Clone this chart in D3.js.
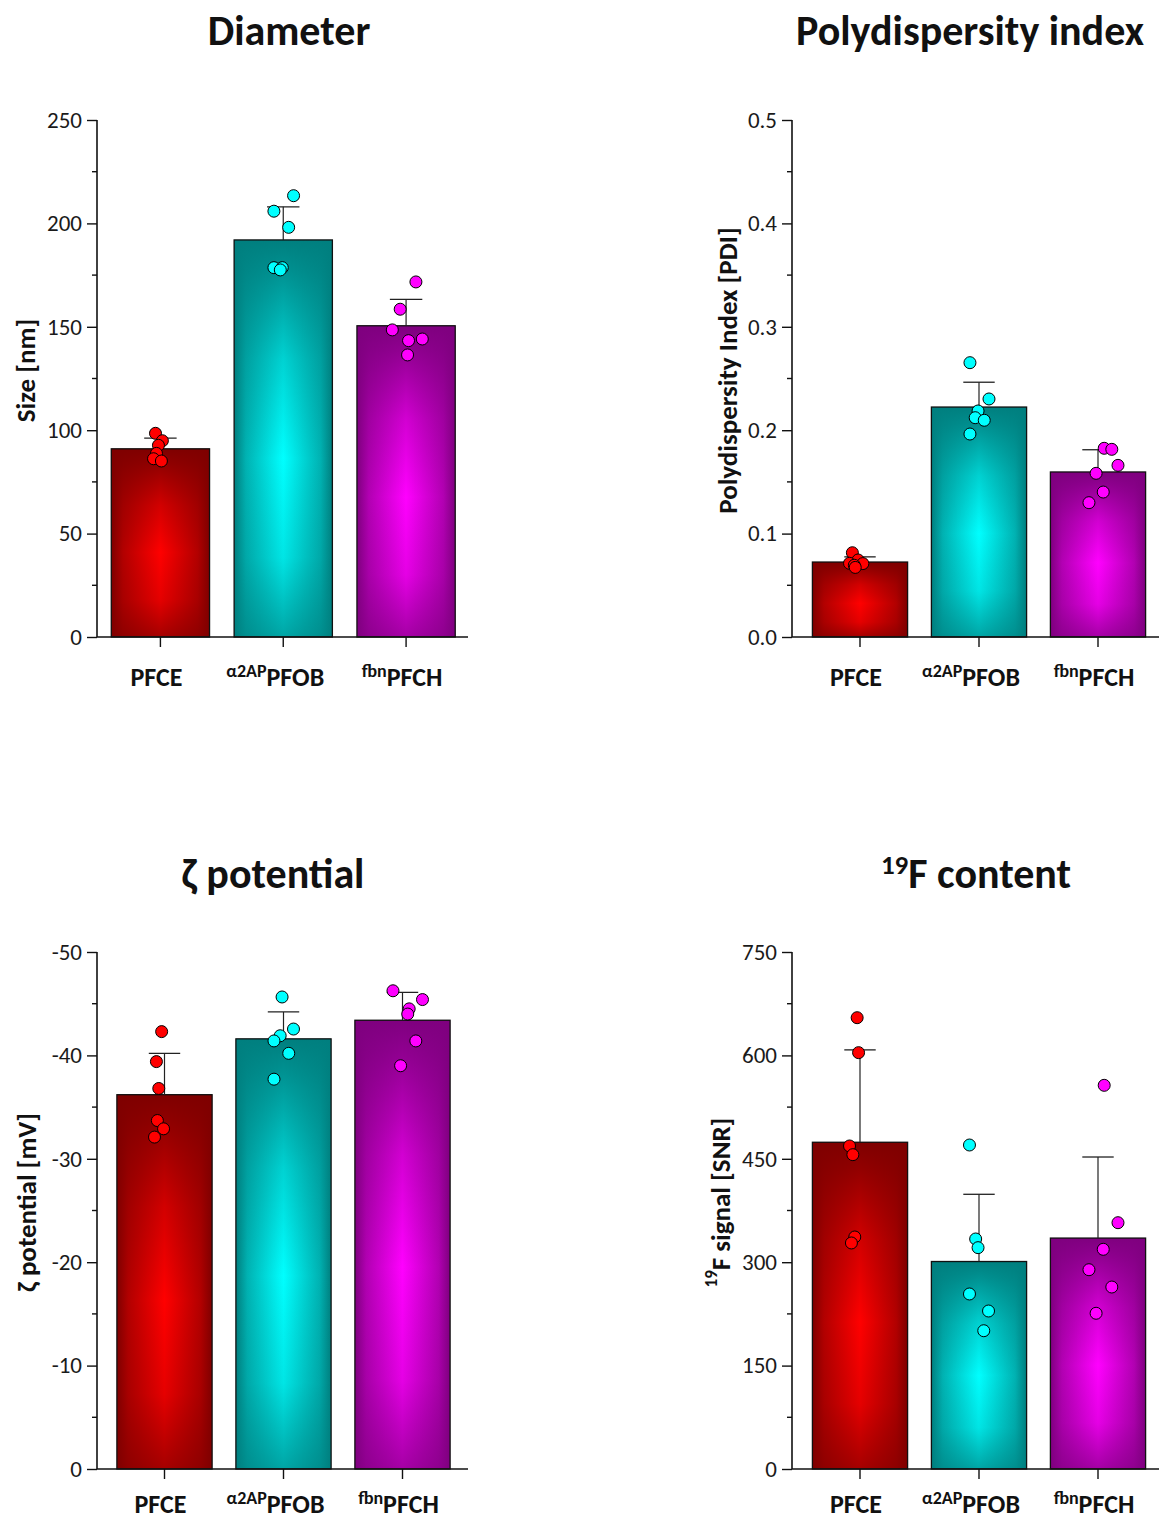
<!DOCTYPE html>
<html>
<head>
<meta charset="utf-8">
<script src="https://cdn.jsdelivr.net/npm/d3@7"></script>
<style>
  html, body { margin: 0; padding: 0; background: #fff; }
  svg { display: block; }
  text { font-family: Carlito, Calibri, "Open Sans", sans-serif; }
</style>
</head>
<body>
<svg id="chart" width="1159" height="1520"></svg>
<script>
// ---------------- DATA ----------------
const catMain = ["PFCE", "PFOB", "PFCH"];
const catSup  = ["", "\u03b12AP", "fbn"];

const diameterMean = [91.0, 192.0, 150.5];
const diameterSD   = [5.2, 16.0, 12.8];
const diameterPoints = [
  [98.5, 94.9, 92.7, 88.8, 86.2, 85.1],
  [213.4, 205.9, 198.1, 178.6, 178.6, 177.5],
  [171.7, 158.5, 148.5, 144.1, 143.3, 136.4]
];
const diameterJitter = [
  [-0.05, 0.02, -0.02, -0.04, -0.07, 0.01],
  [0.105, -0.095, 0.055, -0.095, -0.01, -0.03],
  [0.10, -0.06, -0.14, 0.165, 0.025, 0.015]
];
const diameterTicks = [0, 50, 100, 150, 200, 250];

const pdiMean = [0.0725, 0.2224, 0.1596];
const pdiSD   = [0.0050, 0.0240, 0.0215];
const pdiPoints = [
  [0.0815, 0.0745, 0.0713, 0.0710, 0.0694, 0.0673],
  [0.2653, 0.2302, 0.2186, 0.2121, 0.2096, 0.1963],
  [0.1825, 0.1815, 0.1660, 0.1583, 0.1402, 0.1299]
];
const pdiJitter = [
  [-0.08, -0.02, -0.11, 0.03, -0.06, -0.05],
  [-0.095, 0.105, -0.01, -0.04, 0.055, -0.095],
  [0.065, 0.145, 0.21, -0.02, 0.055, -0.095]
];
const pdiTicks = [0.0, 0.1, 0.2, 0.3, 0.4, 0.5];

const zetaMean = [-36.2, -41.6, -43.4];
const zetaSD   = [-4.0, -2.6, -2.7];
const zetaPoints = [
  [-42.3, -39.4, -36.8, -33.7, -32.9, -32.1],
  [-45.65, -42.55, -41.9, -41.4, -40.2, -37.7],
  [-46.25, -45.4, -44.5, -44.0, -41.4, -39.0]
];
const zetaJitter = [
  [-0.03, -0.085, -0.06, -0.075, -0.01, -0.105],
  [-0.015, 0.105, -0.035, -0.1, 0.055, -0.1],
  [-0.1, 0.21, 0.07, 0.055, 0.14, -0.02]
];
const zetaTicks = [0, -10, -20, -30, -40, -50];

const fluorMean = [474, 301, 335];
const fluorSD   = [134, 97.5, 117.6];
const fluorPoints = [
  [654.7, 604.0, 468.6, 456.0, 336.6, 327.9],
  [470.0, 333.7, 321.1, 253.9, 229.2, 200.6],
  [556.6, 357.3, 318.7, 289.1, 264.0, 225.9]
];
const fluorJitter = [
  [-0.03, -0.015, -0.11, -0.075, -0.055, -0.09],
  [-0.1, -0.035, -0.01, -0.1, 0.1, 0.05],
  [0.065, 0.21, 0.055, -0.095, 0.145, -0.02]
];
const fluorTicks = [0, 150, 300, 450, 600, 750];

const darkColors   = ["#7f0000", "#007f7f", "#7f007f"];
const brightColors = ["#ff0000", "#00ffff", "#ff00ff"];
const pointColors  = ["#ff0000", "#00ffff", "#ff00ff"];

// ---------------- RENDER ----------------
const FONT = "Carlito, Calibri, 'Open Sans', sans-serif";
const svg = d3.select("#chart");
const defs = svg.append("defs");

brightColors.forEach((b, i) => {
  const h = defs.append("linearGradient").attr("id", "hg" + i)
    .attr("x1", 0).attr("x2", 1).attr("y1", 0).attr("y2", 0);
  h.append("stop").attr("offset", "0%").attr("stop-color", darkColors[i]);
  h.append("stop").attr("offset", "12%").attr("stop-color", d3.interpolateRgb(darkColors[i], b)(0.4));
  h.append("stop").attr("offset", "50%").attr("stop-color", b);
  h.append("stop").attr("offset", "88%").attr("stop-color", d3.interpolateRgb(darkColors[i], b)(0.4));
  h.append("stop").attr("offset", "100%").attr("stop-color", darkColors[i]);
  const v = defs.append("linearGradient").attr("id", "vg" + i)
    .attr("x1", 0).attr("x2", 0).attr("y1", 0).attr("y2", 1);
  v.append("stop").attr("offset", "0%").attr("stop-color", darkColors[i]).attr("stop-opacity", 1);
  v.append("stop").attr("offset", "8%").attr("stop-color", darkColors[i]).attr("stop-opacity", 0.85);
  v.append("stop").attr("offset", "30%").attr("stop-color", darkColors[i]).attr("stop-opacity", 0.35);
  v.append("stop").attr("offset", "55%").attr("stop-color", darkColors[i]).attr("stop-opacity", 0);
  v.append("stop").attr("offset", "80%").attr("stop-color", darkColors[i]).attr("stop-opacity", 0.2);
  v.append("stop").attr("offset", "100%").attr("stop-color", darkColors[i]).attr("stop-opacity", 0.7);
});

function panel(opt) {
  const g = svg.append("g");
  const x = d3.scaleBand().domain(d3.range(3)).range(opt.band)
    .paddingInner(0.2).paddingOuter(0.1);
  const y = d3.scaleLinear().domain(opt.domain).range([opt.bottom, opt.top]);
  const bw = x.bandwidth();

  // bars
  d3.range(3).forEach(i => {
    const y0 = y(0), y1 = y(opt.mean[i]);
    const top = Math.min(y0, y1), hgt = Math.abs(y0 - y1);
    g.append("rect").attr("x", x(i)).attr("y", top).attr("width", bw).attr("height", hgt)
      .attr("fill", `url(#hg${i})`);
    g.append("rect").attr("x", x(i)).attr("y", top).attr("width", bw).attr("height", hgt)
      .attr("fill", `url(#vg${i})`);
    g.append("rect").attr("x", x(i)).attr("y", top).attr("width", bw).attr("height", hgt)
      .attr("fill", "none").attr("stroke", "#111").attr("stroke-width", 1.3);
  });

  // error bars
  d3.range(3).forEach(i => {
    const cx = x(i) + bw / 2;
    const ym = y(opt.mean[i]), ye = y(opt.mean[i] + opt.sd[i]);
    g.append("line").attr("x1", cx).attr("x2", cx).attr("y1", ym).attr("y2", ye)
      .attr("stroke", "#222").attr("stroke-width", 1.2);
    g.append("line").attr("x1", cx - bw * 0.165).attr("x2", cx + bw * 0.165).attr("y1", ye).attr("y2", ye)
      .attr("stroke", "#222").attr("stroke-width", 1.3);
  });

  // points
  d3.range(3).forEach(i => {
    const cx = x(i) + bw / 2;
    g.selectAll(null).data(opt.points[i]).enter().append("circle")
      .attr("cx", (d, j) => cx + opt.jitter[i][j] * bw)
      .attr("cy", d => y(d))
      .attr("r", 6)
      .attr("fill", pointColors[i]).attr("stroke", "#000").attr("stroke-width", 1);
  });

  // y axis
  const yAxis = d3.axisLeft(y).tickValues(opt.ticks).tickSize(10).tickPadding(5)
    .tickFormat(opt.fmt);
  const ya = g.append("g").attr("transform", `translate(${opt.axisX},0)`).call(yAxis);
  ya.select(".domain").attr("stroke", "#111").attr("stroke-width", 1.6)
    .attr("d", `M0,${opt.top}V${opt.bottom}`);
  ya.selectAll(".tick line").attr("stroke", "#111").attr("stroke-width", 1.4);
  ya.selectAll(".tick text").attr("font-size", 23).attr("fill", "#1a1a1a")
    .style("font-family", FONT);
  // minor ticks
  const minor = d3.range(opt.ticks.length - 1).map(k => (opt.ticks[k] + opt.ticks[k + 1]) / 2);
  g.selectAll(null).data(minor).enter().append("line")
    .attr("x1", opt.axisX - 5).attr("x2", opt.axisX)
    .attr("y1", d => y(d)).attr("y2", d => y(d))
    .attr("stroke", "#111").attr("stroke-width", 1.4);

  // x axis line
  g.append("line").attr("x1", opt.axisX).attr("x2", opt.axisEnd)
    .attr("y1", opt.bottom).attr("y2", opt.bottom)
    .attr("stroke", "#111").attr("stroke-width", 1.6);
  d3.range(3).forEach(i => {
    const cx = x(i) + bw / 2;
    g.append("line").attr("x1", cx).attr("x2", cx).attr("y1", opt.bottom).attr("y2", opt.bottom + 10)
      .attr("stroke", "#111").attr("stroke-width", 1.4);
    const t = g.append("text").attr("x", cx - (catSup[i] === "\u03b12AP" ? 8 : 4)).attr("y", opt.labelY)
      .attr("text-anchor", "middle").attr("font-weight", "bold").attr("font-size", 26).attr("fill", "#111");
    if (catSup[i]) {
      t.append("tspan").attr("font-size", 18).attr("dy", -9).text(catSup[i]);
      t.append("tspan").attr("dy", 9).text(catMain[i]);
    } else {
      t.text(catMain[i]);
    }
  });

  // y title
  const yt = g.append("text")
    .attr("transform", `translate(${opt.yTitleX},${(opt.top + opt.bottom) / 2 - 8}) rotate(-90)`)
    .attr("text-anchor", "middle").attr("dominant-baseline", "central")
    .attr("font-weight", "bold").attr("font-size", 27).attr("fill", "#111");
  opt.yTitle(yt);

  // title
  const tt = g.append("text").attr("x", opt.titleX).attr("y", opt.titleY)
    .attr("text-anchor", "middle").attr("font-weight", "bold").attr("font-size", 42).attr("fill", "#111");
  opt.title(tt);
}

const plainFmt = d => String(d);

panel({
  band: [99, 467.5], axisX: 97, axisEnd: 468, top: 120, bottom: 637, labelY: 686,
  domain: [0, 250], ticks: diameterTicks, fmt: plainFmt,
  mean: diameterMean, sd: diameterSD, points: diameterPoints, jitter: diameterJitter,
  yTitleX: 25, titleX: 289, titleY: 45,
  yTitle: t => t.text("Size [nm]"),
  title: t => t.text("Diameter")
});

panel({
  band: [800.5, 1157.5], axisX: 792, axisEnd: 1159, top: 120, bottom: 637, labelY: 686,
  domain: [0, 0.5], ticks: pdiTicks, fmt: d => d.toFixed(1),
  mean: pdiMean, sd: pdiSD, points: pdiPoints, jitter: pdiJitter,
  yTitleX: 727, titleX: 970, titleY: 45,
  yTitle: t => t.text("Polydispersity Index [PDI]"),
  title: t => t.text("Polydispersity index")
});

panel({
  band: [105, 462], axisX: 97, axisEnd: 468, top: 952, bottom: 1469, labelY: 1513,
  domain: [0, -50], ticks: zetaTicks, fmt: plainFmt,
  mean: zetaMean, sd: zetaSD, points: zetaPoints, jitter: zetaJitter,
  yTitleX: 26, titleX: 273, titleY: 888,
  yTitle: t => t.text("\u03b6 potential [mV]"),
  title: t => t.text("\u03b6 potential")
});

panel({
  band: [800.5, 1157.5], axisX: 792, axisEnd: 1159, top: 952, bottom: 1469, labelY: 1513,
  domain: [0, 750], ticks: fluorTicks, fmt: plainFmt,
  mean: fluorMean, sd: fluorSD, points: fluorPoints, jitter: fluorJitter,
  yTitleX: 720, titleX: 976, titleY: 888,
  yTitle: t => {
    t.append("tspan").attr("font-size", 17).attr("dy", -9).text("19");
    t.append("tspan").attr("dy", 9).text("F signal [SNR]");
  },
  title: t => {
    t.append("tspan").attr("font-size", 27).attr("dy", -14).text("19");
    t.append("tspan").attr("dy", 14).text("F content");
  }
});
</script>
</body>
</html>
